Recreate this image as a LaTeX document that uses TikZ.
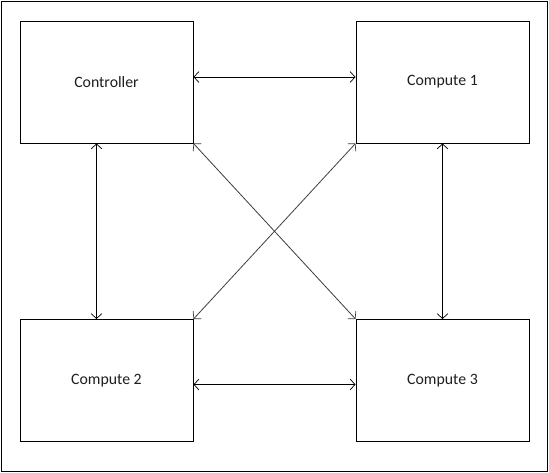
\documentclass[tikz,border=0pt]{standalone}
\usepackage{fontspec}
\setmainfont{Carlito}
\usetikzlibrary{arrows.meta}
\tikzstyle{every path}=[line width=1pt]
\tikzstyle{machine}=[draw, minimum width=173pt, minimum height=122pt, inner sep=0pt, font=\fontsize{15.8}{19}\selectfont, text=textgray]
\tikzstyle{link}=[{Straight Barb[length=5pt,width=11pt,line width=0.7pt]}-{Straight Barb[length=5pt,width=11pt,line width=0.7pt]}]
\definecolor{textgray}{RGB}{30,30,30}
\definecolor{crossgray}{RGB}{60,60,60}

\begin{document}
\begin{tikzpicture}[x=1pt, y=-1pt]
            \useasboundingbox (0,0) rectangle (549,472);
            \draw (1,1) rectangle (547.5,471);

            \node[machine] (controller) at (106.5, 82) {Controller};
            \node[machine] (computeone) at (442.5, 82) {Compute 1};
            \node[machine] (computetwo) at (106.5, 380.5) {Compute 2};
            \node[machine] (computethree) at (442.5, 380.5) {Compute 3};

            \draw[link] ([yshift=5pt]controller.east) -- ([yshift=5pt]computeone.west);
            \draw[link] ([yshift=-4pt]computetwo.east) -- ([yshift=-4pt]computethree.west);
            \draw[link] ([xshift=-10pt]controller.south) -- ([xshift=-10pt]computetwo.north);
            \draw[link] (computeone.south) -- (computethree.north);

            \draw[link, crossgray, line width=0.8pt] (controller.south east) -- (computethree.north west);
            \draw[link, crossgray, line width=0.8pt] (computeone.south west) -- (computetwo.north east);
        \end{tikzpicture}
\end{document}
